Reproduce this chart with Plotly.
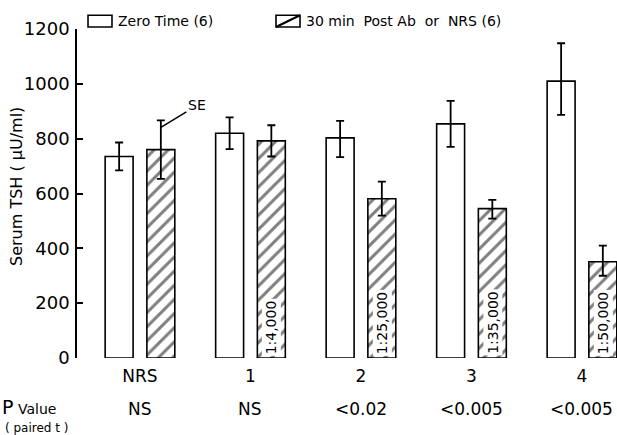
import plotly.graph_objects as go

# ---- data ----
groups = ["NRS", "1", "2", "3", "4"]
zero_time = [735, 820, 803, 854, 1010]
zero_err_plus = [51, 58, 62, 84, 138]
zero_err_minus = [51, 58, 70, 84, 123]
post_ab = [760, 792, 581, 545, 351]
post_err_plus = [107, 57, 62, 32, 59]
post_err_minus = [107, 57, 62, 37, 51]
dilutions = ["", "1:4,000", "1:25,000", "1:35,000", "1:50,000"]
p_values = ["NS", "NS", "<0.02", "<0.005", "<0.005"]
y_ticks = [0, 200, 400, 600, 800, 1000, 1200]

FONT = "DejaVu Sans"
BLACK = "black"

fig = go.Figure()
fig.add_trace(go.Bar(
    x=groups, y=zero_time, name="Zero Time (6)",
    marker=dict(color="white", line=dict(color=BLACK, width=1.6)),
    error_y=dict(type="data", array=zero_err_plus, arrayminus=zero_err_minus,
                 color=BLACK, thickness=1.8, width=4),
    showlegend=False,
))
fig.add_trace(go.Bar(
    x=groups, y=post_ab, name="30 min Post Ab or NRS (6)",
    marker=dict(color="white", line=dict(color=BLACK, width=1.6),
                pattern=dict(shape="/", fgcolor=BLACK, bgcolor="white",
                             size=10, solidity=0.3)),
    error_y=dict(type="data", array=post_err_plus, arrayminus=post_err_minus,
                 color=BLACK, thickness=1.8, width=4),
    showlegend=False,
))

annotations = []
# dilution labels inside hatched bars
for i, d in enumerate(dilutions):
    if d:
        annotations.append(dict(
            x=i + 0.189, y=0, xref="x", yref="y", text=d, textangle=-90,
            showarrow=False, yanchor="bottom", xanchor="center", yshift=2,
            bgcolor="white", font=dict(family=FONT, size=14, color=BLACK),
            borderpad=1,
        ))
# P values
for i, p in enumerate(p_values):
    annotations.append(dict(
        x=i, y=-0.155, xref="x", yref="paper", text=p, showarrow=False,
        xanchor="center", yanchor="middle",
        font=dict(family=FONT, size=17, color=BLACK),
    ))
annotations.append(dict(
    x=-0.141, y=-0.1855, xref="paper", yref="paper",
    text="<span style='font-size:19px'>P</span> Value", showarrow=False,
    xanchor="left", yanchor="bottom", font=dict(family=FONT, size=14, color=BLACK),
    borderpad=0,
))
annotations.append(dict(
    x=-0.135, y=-0.1885, xref="paper", yref="paper", text="( paired t )",
    showarrow=False, xanchor="left", yanchor="top",
    font=dict(family=FONT, size=12, color=BLACK), borderpad=0,
))
# y axis title
annotations.append(dict(
    x=-0.111, y=0.52, xref="paper", yref="paper", text="Serum TSH ( µU/ml)",
    textangle=-90, showarrow=False, xanchor="center", yanchor="middle",
    font=dict(family=FONT, size=16, color=BLACK),
))
# SE pointer
annotations.append(dict(
    x=0.189, y=841, xref="x", yref="y", text="SE", showarrow=True,
    arrowhead=0, arrowwidth=1.5, arrowcolor=BLACK, ax=36, ay=-22,
    standoff=0, font=dict(family=FONT, size=14, color=BLACK),
))
# legend texts
annotations.append(dict(
    x=0.072, y=1.024, xref="paper", yref="paper", text="Zero Time (6)",
    showarrow=False, xanchor="left", yanchor="middle",
    font=dict(family=FONT, size=14, color=BLACK),
))
annotations.append(dict(
    x=0.420, y=1.024, xref="paper", yref="paper", text="30 min  Post Ab  or  NRS (6)",
    showarrow=False, xanchor="left", yanchor="middle",
    font=dict(family=FONT, size=14, color=BLACK),
))

shapes = [
    dict(type="rect", xref="paper", yref="paper", x0=0.0204, x1=0.0648,
         y0=1.006, y1=1.042, line=dict(color=BLACK, width=1.6), fillcolor="white"),
    dict(type="rect", xref="paper", yref="paper", x0=0.3685, x1=0.413,
         y0=1.006, y1=1.042, line=dict(color=BLACK, width=1.6), fillcolor="white"),
    dict(type="line", xref="paper", yref="paper", x0=0.3685, x1=0.413,
         y0=1.006, y1=1.042, line=dict(color=BLACK, width=2.2)),
]

fig.update_layout(
    width=617, height=435,
    margin=dict(l=77, r=0, t=29, b=77),
    paper_bgcolor="white", plot_bgcolor="white",
    barmode="group", bargap=0.245, bargroupgap=0.33,
    font=dict(family=FONT, color=BLACK),
    annotations=annotations, shapes=shapes,
    xaxis=dict(range=[-0.570, 4.317], showline=False, showgrid=False,
               zeroline=False, ticks="", ticklabelstandoff=6, automargin=False,
               tickfont=dict(family=FONT, size=17, color=BLACK)),
    yaxis=dict(range=[0, 1200], tickvals=y_ticks, showline=True,
               linecolor=BLACK, linewidth=1.6, ticks="inside", ticklen=6,
               tickwidth=1.6, tickcolor=BLACK, showgrid=False, zeroline=False,
               automargin=False, ticklabelstandoff=2,
               tickfont=dict(family=FONT, size=18, color=BLACK)),
)

fig.write_html(
    "out.html",
    config={"displayModeBar": False},
    post_script="document.body.style.margin='0';document.body.style.overflow='hidden';",
)
